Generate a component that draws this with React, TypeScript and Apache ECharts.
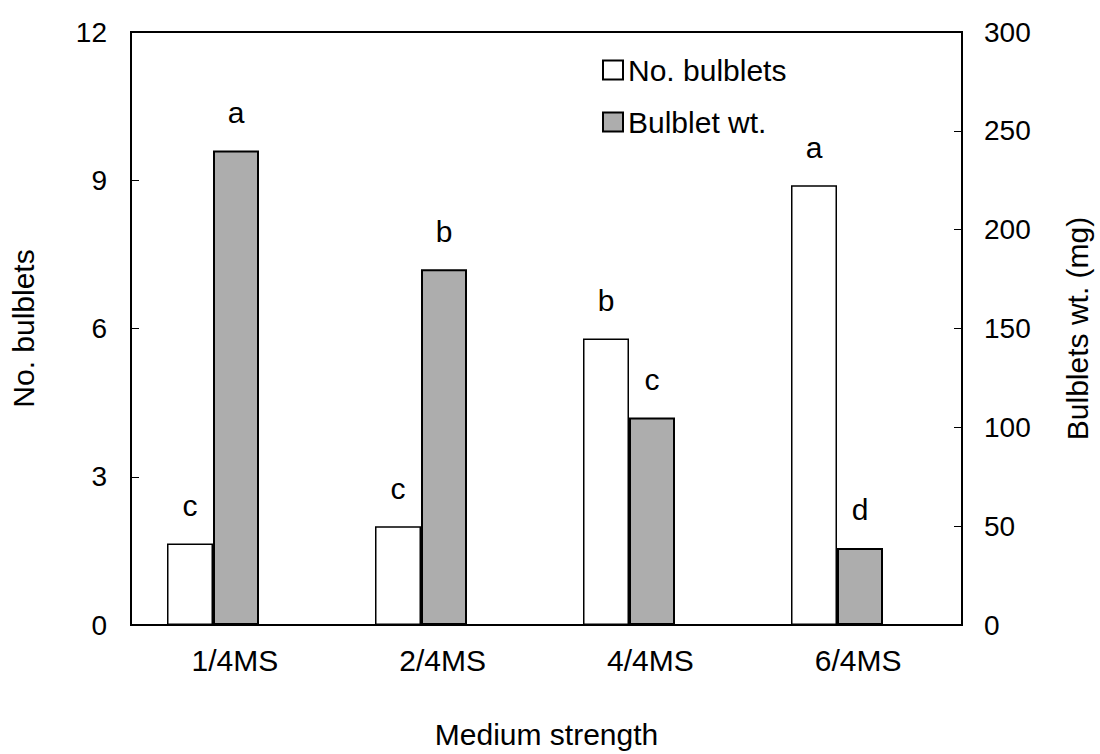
import React, { useEffect, useRef } from "react";
import * as echarts from "echarts";

// Medium strength treatments
const categories = ["1/4MS", "2/4MS", "4/4MS", "6/4MS"];
// Number of bulblets per explant (left axis)
const bulbletCount = [1.65, 2.0, 5.8, 8.9];
// Bulblet fresh weight in mg (right axis)
const bulbletWeight = [240, 180, 105, 39];
// Mean separation letters
const countLetters = ["c", "c", "b", "a"];
const weightLetters = ["a", "b", "c", "d"];
// Axis ranges
const countAxis = { min: 0, max: 12, interval: 3 };
const weightAxis = { min: 0, max: 300, interval: 50 };

const FONT = "'Liberation Sans', Arial, Helvetica, sans-serif";
const GREY = "#adadad";

export default function App() {
  const ref = useRef<HTMLDivElement>(null);

  useEffect(() => {
    if (!ref.current) return;
    const chart = echarts.init(ref.current, undefined, { renderer: "svg" });

    const txt = { color: "#000", fontFamily: FONT };

    const option: any = {
      animation: false,
      backgroundColor: "#fff",
      legend: {
        orient: "vertical",
        left: 597,
        top: 50,
        itemWidth: 20,
        itemHeight: 19,
        itemGap: 22,
        icon: "rect",
        selectedMode: false,
        textStyle: { ...txt, fontSize: 30, padding: [0, 0, 26, 0] },
        data: ["No. bulblets", "Bulblet wt."],
      },
      grid: [
        // grid holding the bars (group sits left of each category centre)
        { left: 109, width: 832, top: 32, height: 593 },
        // grid drawing the frame, axes and labels
        {
          left: 131,
          width: 832,
          top: 32,
          height: 593,
          show: true,
          borderColor: "#000",
          borderWidth: 2,
          backgroundColor: "transparent",
        },
      ],
      xAxis: [
        { gridIndex: 0, type: "category", data: categories, show: false },
        {
          gridIndex: 1,
          type: "category",
          data: categories,
          axisLine: { lineStyle: { color: "#000", width: 2 } },
          axisTick: { inside: true, length: 7, lineStyle: { color: "#000", width: 1 } },
          axisLabel: { ...txt, fontSize: 30, margin: 20 },
          name: "Medium strength",
          nameLocation: "middle",
          nameGap: 94,
          nameTextStyle: { ...txt, fontSize: 30 },
        },
      ],
      yAxis: [
        { gridIndex: 0, type: "value", ...countAxis, show: false },
        { gridIndex: 0, type: "value", ...weightAxis, show: false, position: "right" },
        {
          gridIndex: 1,
          type: "value",
          position: "left",
          ...countAxis,
          splitLine: { show: false },
          axisLine: { show: true, lineStyle: { color: "#000", width: 2 } },
          axisTick: { show: true, inside: true, length: 8, lineStyle: { color: "#000", width: 1 } },
          axisLabel: { ...txt, fontSize: 28, margin: 24, padding: [0, 0, 12, 0] },
          name: "No. bulblets",
          nameLocation: "middle",
          nameRotate: 90,
          nameGap: 93,
          nameTextStyle: { ...txt, fontSize: 30 },
        },
        {
          gridIndex: 1,
          type: "value",
          position: "right",
          ...weightAxis,
          splitLine: { show: false },
          axisLine: { show: true, lineStyle: { color: "#000", width: 2 } },
          axisTick: { show: true, inside: true, length: 8, lineStyle: { color: "#000", width: 1 } },
          axisLabel: { ...txt, fontSize: 28, margin: 22, padding: [0, 0, 12, 0] },
          name: "Bulblets wt. (mg)",
          nameLocation: "middle",
          nameRotate: 90,
          nameGap: 100,
          nameTextStyle: { ...txt, fontSize: 30 },
        },
      ],
      series: [
        {
          name: "No. bulblets",
          type: "bar",
          xAxisIndex: 0,
          yAxisIndex: 0,
          data: bulbletCount,
          barWidth: 46,
          barGap: "0%",
          itemStyle: { color: "#fff", borderColor: "#000", borderWidth: 1.5 },
          label: {
            show: true,
            position: "top",
            distance: 23,
            ...txt,
            fontSize: 30,
            formatter: (p: any) => countLetters[p.dataIndex],
          },
        },
        {
          name: "Bulblet wt.",
          type: "bar",
          xAxisIndex: 0,
          yAxisIndex: 1,
          data: bulbletWeight,
          barWidth: 46,
          barGap: "0%",
          itemStyle: { color: GREY, borderColor: "#000", borderWidth: 2 },
          label: {
            show: true,
            position: "top",
            distance: 23,
            ...txt,
            fontSize: 30,
            formatter: (p: any) => weightLetters[p.dataIndex],
          },
        },
      ],
    };

    chart.setOption(option);
    return () => chart.dispose();
  }, []);

  return (
    <div
      ref={ref}
      style={{ position: "absolute", left: 0, top: 0, width: 1100, height: 754, background: "#fff" }}
    />
  );
}
